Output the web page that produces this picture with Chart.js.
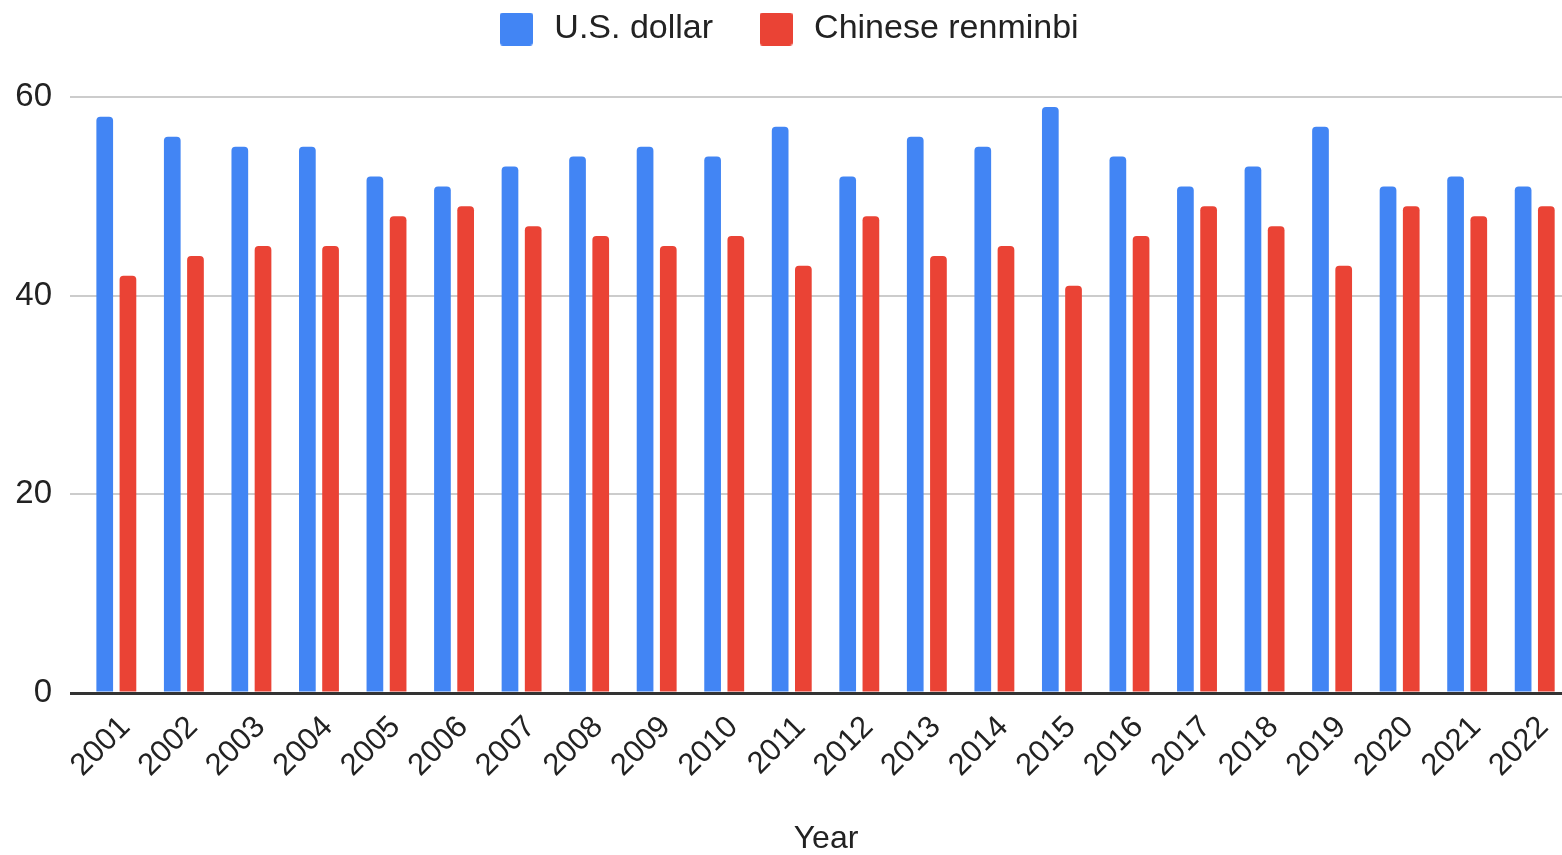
<!DOCTYPE html>
<html>
<head>
<meta charset="utf-8">
<script src="https://cdn.jsdelivr.net/npm/chart.js@4.4.1/dist/chart.umd.min.js"></script>
<style>
  html, body { margin: 0; padding: 0; background: #ffffff; overflow: hidden; }
  #wrap { width: 1582px; height: 855px; position: relative; }
</style>
</head>
<body>
<div id="wrap"><canvas id="chart"></canvas></div>
<script>
// Share (%) by year
const years = [2001, 2002, 2003, 2004, 2005, 2006, 2007, 2008, 2009, 2010, 2011,
               2012, 2013, 2014, 2015, 2016, 2017, 2018, 2019, 2020, 2021, 2022];
const usDollar = [58, 56, 55, 55, 52, 51, 53, 54, 55, 54, 57,
                  52, 56, 55, 59, 54, 51, 53, 57, 51, 52, 51];
const chineseRenminbi = [42, 44, 45, 45, 48, 49, 47, 46, 45, 46, 43,
                         48, 44, 45, 41, 46, 49, 47, 43, 49, 48, 49];
const yTicks = [0, 20, 40, 60];
const seriesNames = ['U.S. dollar', 'Chinese renminbi'];
const seriesColors = ['#4285F4', '#EA4335'];
const xTitle = 'Year';

const FONT = "Arial, 'Liberation Sans', sans-serif";
const TEXT = '#222222';

const toPoints = vals => years.map((yr, i) => ({ x: yr, y: vals[i] }));

const barStyle = {
  categoryPercentage: 0.687,
  barPercentage: 0.72,
  borderRadius: { topLeft: 4, topRight: 4, bottomLeft: 0, bottomRight: 0 },
  borderSkipped: 'bottom'
};

// Small rounded swatches used as legend markers.
function swatch(color) {
  const s = 33, r = 3;
  const c = document.createElement('canvas');
  c.width = s; c.height = s;
  const g = c.getContext('2d');
  g.fillStyle = color;
  g.beginPath();
  g.moveTo(r, 0); g.lineTo(s - r, 0); g.quadraticCurveTo(s, 0, s, r);
  g.lineTo(s, s - r); g.quadraticCurveTo(s, s, s - r, s);
  g.lineTo(r, s); g.quadraticCurveTo(0, s, 0, s - r);
  g.lineTo(0, r); g.quadraticCurveTo(0, 0, r, 0);
  g.fill();
  return c;
}
const swatches = seriesColors.map(swatch);

// Lift the legend row closer to the top edge and nudge it sideways.
const legendShift = {
  id: 'legendShift',
  afterLayout(chart) {
    const lg = chart.legend;
    if (!lg) return;
    const dy = 41, dx = -4;
    lg.top -= dy; lg.bottom -= dy;
    lg.left += dx; lg.right += dx;
  }
};

new Chart(document.getElementById('chart'), {
  type: 'bar',
  data: {
    datasets: [
      Object.assign({ label: seriesNames[0], data: toPoints(usDollar), backgroundColor: seriesColors[0] }, barStyle),
      Object.assign({ label: seriesNames[1], data: toPoints(chineseRenminbi), backgroundColor: seriesColors[1] }, barStyle)
    ]
  },
  plugins: [legendShift],
  options: {
    responsive: true,
    maintainAspectRatio: false,
    animation: false,
    layout: { padding: { top: 11, right: 0, bottom: 0, left: 0 } },
    plugins: {
      tooltip: { enabled: false },
      legend: {
        position: 'top',
        labels: {
          usePointStyle: true,
          pointStyleWidth: 42,
          boxHeight: 33,
          padding: 42,
          color: TEXT,
          font: { family: FONT, size: 34 },
          generateLabels: chart => {
            const items = Chart.defaults.plugins.legend.labels.generateLabels(chart);
            items.forEach((it, i) => { it.pointStyle = swatches[i]; });
            return items;
          }
        }
      }
    },
    scales: {
      x: {
        type: 'linear',
        offset: false,
        min: 2000.314,
        max: 2022.7,
        afterFit: axis => { axis.height = 162; },
        grid: { display: false, drawTicks: false },
        border: { display: false },
        ticks: {
          stepSize: 1,
          includeBounds: false,
          autoSkip: false,
          maxTicksLimit: 40,
          minRotation: 45,
          maxRotation: 45,
          padding: 16,
          labelOffset: 9,
          color: TEXT,
          font: { family: FONT, size: 31 },
          callback: v => String(v)
        },
        title: {
          display: true,
          text: xTitle,
          color: TEXT,
          font: { family: FONT, size: 32, lineHeight: 1 },
          padding: { top: 0, bottom: 0 }
        }
      },
      y: {
        min: 0,
        max: 60,
        afterFit: axis => { axis.width = 70; },
        afterBuildTicks: axis => { axis.ticks = yTicks.map(v => ({ value: v })); },
        grid: {
          drawTicks: false,
          lineWidth: ctx => (ctx.tick && ctx.tick.value === 0 ? 3 : 2),
          color: ctx => (ctx.tick && ctx.tick.value === 0 ? '#333333' : '#cccccc')
        },
        border: { display: false },
        ticks: {
          padding: 18,
          color: TEXT,
          font: { family: FONT, size: 33 }
        }
      }
    }
  }
});
</script>
</body>
</html>
